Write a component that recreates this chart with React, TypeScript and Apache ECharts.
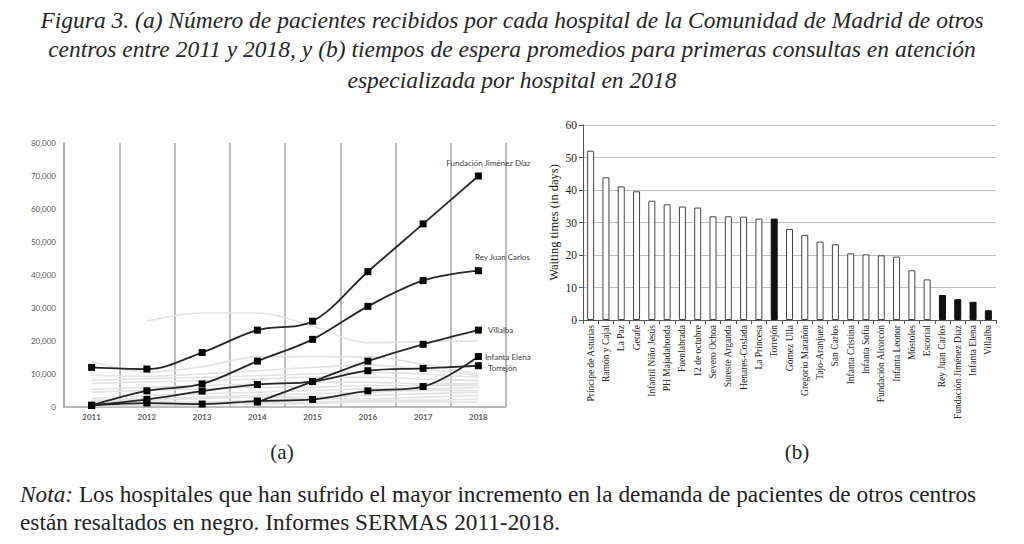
import React, { useEffect, useRef } from "react";
import * as echarts from "echarts";

const years = ["2011", "2012", "2013", "2014", "2015", "2016", "2017", "2018"];

const fjd = [12000, 11500, 16500, 23300, 26000, 41000, 55500, 70000];
const rjc = [500, 4900, 7000, 13900, 20500, 30500, 38300, 41300];
const villalba = [null, null, null, 1500, 7700, 13900, 19000, 23300];
const infantaElena = [500, 1200, 900, 1800, 2300, 4900, 6200, 15300];
const torrejon = [500, 2300, 4800, 6800, 7700, 11000, 11700, 12500];

const grayLines = [
  [null, 26000, 28500, 28500, 24500, 19500, 19800, 20000],
  [13700, 10600, 12200, 15200, 15300, 15200, 13000, 10000],
  [9600, 9300, 10000, 11000, 12000, 12700, 11500, 9500],
  [8100, 8600, 9000, 9500, 10000, 10500, 10000, 9000],
  [7100, 7600, 8000, 8500, 9000, 9000, 8500, 8000],
  [5300, 6000, 6500, 7000, 7500, 7500, 7000, 7000],
  [4500, 5000, 5500, 6000, 6000, 6500, 6500, 6500],
  [2600, 3500, 4000, 4500, 5000, 5500, 5500, 6000],
  [2000, 2500, 3000, 3500, 4000, 4500, 5000, 5000],
  [1500, 2000, 2500, 3000, 3000, 3500, 4000, 4500],
  [1000, 1500, 1500, 2000, 2500, 2500, 3000, 3500],
  [800, 1000, 1200, 1500, 1500, 2000, 2000, 2500],
  [300, 500, 800, 1000, 1000, 1500, 1500, 1500],
];

const hospitals = [
  "Príncipe de Asturias", "Ramón y Cajal", "La Paz", "Getafe", "Infantil Niño Jesús",
  "PH Majadahonda", "Fuenlabrada", "12 de octubre", "Severo Ochoa", "Sureste Arganda",
  "Henares-Coslada", "La Princesa", "Torrejón", "Gómez Ulla", "Gregorio Marañón",
  "Tajo-Aranjuez", "San Carlos", "Infanta Cristina", "Infanta Sofía", "Fundación Alcorcón",
  "Infanta Leonor", "Móstoles", "Escorial", "Rey Juan Carlos", "Fundación Jiménez Díaz",
  "Infanta Elena", "Villalba",
];
const waitDays = [
  52.1, 43.9, 41.1, 39.6, 36.7, 35.6, 34.9, 34.6, 31.9, 31.9, 31.8, 31.2, 31.2, 28.0,
  26.2, 24.1, 23.3, 20.5, 20.2, 19.9, 19.5, 15.3, 12.5, 7.7, 6.4, 5.6, 3.0,
];
const highlighted = ["Torrejón", "Rey Juan Carlos", "Fundación Jiménez Díaz", "Infanta Elena", "Villalba"];

const titleLines = [
  "Figura 3. (a) Número de pacientes recibidos por cada hospital de la Comunidad de Madrid de otros",
  "centros entre 2011 y 2018, y (b) tiempos de espera promedios para primeras consultas en atención",
  "especializada por hospital en 2018",
];

const SERIF = "Liberation Serif";
const SANS = "Lato";

function blackSeries(name: string, data: (number | null)[], label: any) {
  return {
    type: "line",
    name,
    xAxisIndex: 0,
    yAxisIndex: 0,
    smooth: 0.35,
    connectNulls: false,
    symbol: "rect",
    symbolSize: 7,
    z: 5,
    lineStyle: { color: "#262626", width: 1.8 },
    itemStyle: { color: "#000" },
    data: data.map((v, i) =>
      i === data.length - 1
        ? { value: v, label: { show: true, formatter: name, fontFamily: SANS, fontSize: 8, color: "#404040", ...label } }
        : v
    ),
  };
}

export default function App() {
  const ref = useRef<HTMLDivElement>(null);
  useEffect(() => {
    if (!ref.current) return;
    const chart = echarts.init(ref.current, undefined, { renderer: "svg" });
    const option: any = {
      animation: false,
      backgroundColor: "#fff",
      grid: [
        { left: 64, right: 1024 - 506, top: 143, bottom: 544 - 407 },
        { left: 583, right: 1024 - 996, top: 125, bottom: 544 - 320 },
      ],
      xAxis: [
        {
          type: "category",
          gridIndex: 0,
          data: years,
          boundaryGap: true,
          axisLine: { show: true, lineStyle: { color: "#a6a6a6", width: 1.5 } },
          axisTick: { show: false },
          splitLine: { show: true, lineStyle: { color: "#a6a6a6", width: 1.5 } },
          axisLabel: { color: "#595959", fontFamily: SANS, fontSize: 8, fontWeight: "bold", margin: 6 },
        },
        {
          type: "category",
          gridIndex: 1,
          data: hospitals,
          boundaryGap: true,
          axisLine: { show: true, lineStyle: { color: "#555", width: 1 } },
          axisTick: { show: true, length: 4, lineStyle: { color: "#555" } },
          axisLabel: { rotate: 90, interval: 0, color: "#222", fontFamily: SERIF, fontSize: 9.5, margin: 5 },
        },
      ],
      yAxis: [
        {
          type: "value",
          gridIndex: 0,
          min: 0,
          max: 80000,
          interval: 10000,
          axisLine: { show: true, lineStyle: { color: "#a6a6a6", width: 1.5 } },
          axisTick: { show: false },
          splitLine: { show: false },
          axisLabel: {
            color: "#595959",
            fontFamily: SANS,
            fontSize: 8,
            margin: 8,
            formatter: (v: number) => v.toLocaleString("en-US"),
          },
        },
        {
          type: "value",
          gridIndex: 1,
          min: 0,
          max: 60,
          interval: 10,
          name: "Waiting times (in days)",
          nameLocation: "middle",
          nameGap: 23,
          nameTextStyle: { fontFamily: SERIF, fontSize: 12.5, color: "#222" },
          axisLine: { show: true, lineStyle: { color: "#555", width: 1 } },
          axisTick: { show: true, length: 4, lineStyle: { color: "#555" } },
          splitLine: { show: true, lineStyle: { color: "#bdbdbd", width: 1 } },
          axisLabel: { color: "#222", fontFamily: SERIF, fontSize: 11.5, margin: 6 },
        },
      ],
      series: [
        ...grayLines.map((d, i) => ({
          type: "line",
          name: "g" + i,
          xAxisIndex: 0,
          yAxisIndex: 0,
          smooth: 0.35,
          symbol: "none",
          z: 2,
          silent: true,
          lineStyle: { color: "#e2e2e2", width: 1.6 },
          data: d,
        })),
        blackSeries("Fundación Jiménez Díaz", fjd, { position: "top", offset: [10, -1] }),
        blackSeries("Rey Juan Carlos", rjc, { position: "top", offset: [24, -1] }),
        blackSeries("Villalba", villalba, { position: "right", distance: 6 }),
        blackSeries("Infanta Elena", infantaElena, { position: "right", distance: 3 }),
        blackSeries("Torrejón", torrejon, { position: "right", distance: 6, offset: [0, 2] }),
        {
          type: "bar",
          xAxisIndex: 1,
          yAxisIndex: 1,
          barWidth: 7,
          data: waitDays.map((v, i) => ({
            value: v,
            itemStyle: highlighted.includes(hospitals[i])
              ? { color: "#111", borderColor: "#111", borderWidth: 1 }
              : { color: "#fff", borderColor: "#444", borderWidth: 1 },
          })),
        },
      ],
      graphic: [
        ...titleLines.map((t, i) => ({
          type: "text",
          x: 512,
          y: [20, 49, 80][i],
          style: {
            text: t,
            fontFamily: SERIF,
            fontStyle: "italic",
            fontSize: 23.5,
            fill: "#262626",
            align: "center",
            verticalAlign: "middle",
          },
        })),
        {
          type: "text",
          x: 282,
          y: 452,
          style: { text: "(a)", fontFamily: SERIF, fontSize: 21, fill: "#222", align: "center", verticalAlign: "middle" },
        },
        {
          type: "text",
          x: 797,
          y: 452,
          style: { text: "(b)", fontFamily: SERIF, fontSize: 21, fill: "#222", align: "center", verticalAlign: "middle" },
        },
        {
          type: "text",
          x: 20,
          y: 494,
          style: {
            text: "{i|Nota:} Los hospitales que han sufrido el mayor incremento en la demanda de pacientes de otros centros",
            fontFamily: SERIF,
            fontSize: 23.3,
            fill: "#222",
            align: "left",
            verticalAlign: "middle",
            rich: { i: { fontStyle: "italic", fontFamily: SERIF, fontSize: 23.3, fill: "#222" } },
          },
        },
        {
          type: "text",
          x: 20,
          y: 522,
          style: {
            text: "están resaltados en negro. Informes SERMAS 2011-2018.",
            fontFamily: SERIF,
            fontSize: 23.3,
            fill: "#222",
            align: "left",
            verticalAlign: "middle",
          },
        },
      ],
    };
    chart.setOption(option);
    return () => chart.dispose();
  }, []);
  return (
    <div
      ref={ref}
      style={{ position: "absolute", left: 0, top: 0, width: 1024, height: 544, background: "#fff" }}
    />
  );
}
